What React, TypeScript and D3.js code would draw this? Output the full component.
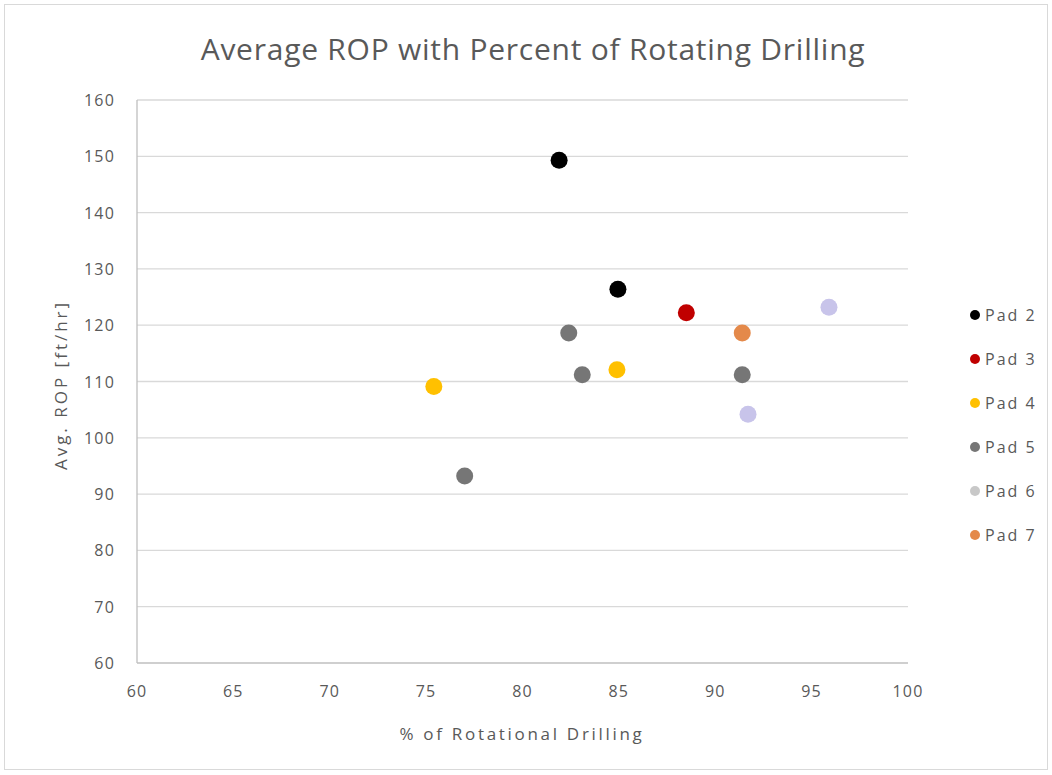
import React from "react";
import * as d3 from "d3";

const seriesNames = ["Pad 2", "Pad 3", "Pad 4", "Pad 5", "Pad 6", "Pad 7"];
const seriesColors = ["#000000", "#C00000", "#FFC000", "#767676", "#C8C4EA", "#E4894A"];
const legendColors = ["#000000", "#C00000", "#FFC000", "#767676", "#C8C8C8", "#E4894A"];
const pad2 = [[81.9, 149.3], [84.95, 126.4]];
const pad3 = [[88.5, 122.2]];
const pad4 = [[75.4, 109.1], [84.9, 112.1]];
const pad5 = [[77.0, 93.2], [82.4, 118.6], [83.1, 111.2], [91.4, 111.2]];
const pad6 = [[95.9, 123.2], [91.7, 104.2]];
const pad7 = [[91.4, 118.6]];
const seriesData = [pad2, pad3, pad4, pad5, pad6, pad7];
const xTicks = [60, 65, 70, 75, 80, 85, 90, 95, 100];
const yTicks = [60, 70, 80, 90, 100, 110, 120, 130, 140, 150, 160];

const W = 1052, H = 775;
const left = 137, right = 908, top = 100, bottom = 663;
const font = "Open Sans, sans-serif";
const textColor = "#595959";

export default function App() {
  const x = d3.scaleLinear().domain([60, 100]).range([left, right]);
  const y = d3.scaleLinear().domain([60, 160]).range([bottom, top]);
  return (
    <svg width={W} height={H} style={{ position: "absolute", left: 0, top: 0, background: "#fff" }}>
      <rect x={4.5} y={4.5} width={1043} height={765} fill="#fff" stroke="#D9D9D9" />
      <text x={533} y={60} textAnchor="middle" fontFamily={font} fontSize={30} letterSpacing={0.75} fill={textColor}>
        Average ROP with Percent of Rotating Drilling
      </text>
      {yTicks.map((t) => (
        <g key={t}>
          {t !== 60 && (
            <line x1={left} x2={right} y1={y(t)} y2={y(t)} stroke="#D9D9D9" strokeWidth={1.3} />
          )}
          <text x={115} y={y(t) + 6} textAnchor="end" fontFamily={font} fontSize={16} letterSpacing={1.2} fill={textColor}>
            {t}
          </text>
        </g>
      ))}
      <line x1={left} x2={left} y1={top} y2={bottom} stroke="#BFBFBF" strokeWidth={1.3} />
      <line x1={left} x2={right} y1={bottom} y2={bottom} stroke="#BFBFBF" strokeWidth={1.3} />
      {xTicks.map((t) => (
        <text key={t} x={x(t)} y={697} textAnchor="middle" fontFamily={font} fontSize={16} letterSpacing={1.2} fill={textColor}>
          {t}
        </text>
      ))}
      <text x={522} y={740} textAnchor="middle" fontFamily={font} fontSize={17} letterSpacing={2.7} fill={textColor}>
        % of Rotational Drilling
      </text>
      <text
        transform={`translate(67,385) rotate(-90)`}
        textAnchor="middle"
        fontFamily={font}
        fontSize={17}
        letterSpacing={3}
        fill={textColor}
      >
        Avg. ROP [ft/hr]
      </text>
      {seriesData.map((pts, si) =>
        pts.map((p, i) => (
          <circle key={`${si}-${i}`} cx={x(p[0])} cy={y(p[1])} r={8.5} fill={seriesColors[si]} />
        ))
      )}
      {seriesNames.map((n, i) => {
        const ly = 315 + i * 44;
        return (
          <g key={n}>
            <circle cx={975} cy={ly} r={5} fill={legendColors[i]} />
            <text x={985} y={ly + 6} fontFamily={font} fontSize={16} letterSpacing={2} fill={textColor}>
              {n}
            </text>
          </g>
        );
      })}
    </svg>
  );
}
